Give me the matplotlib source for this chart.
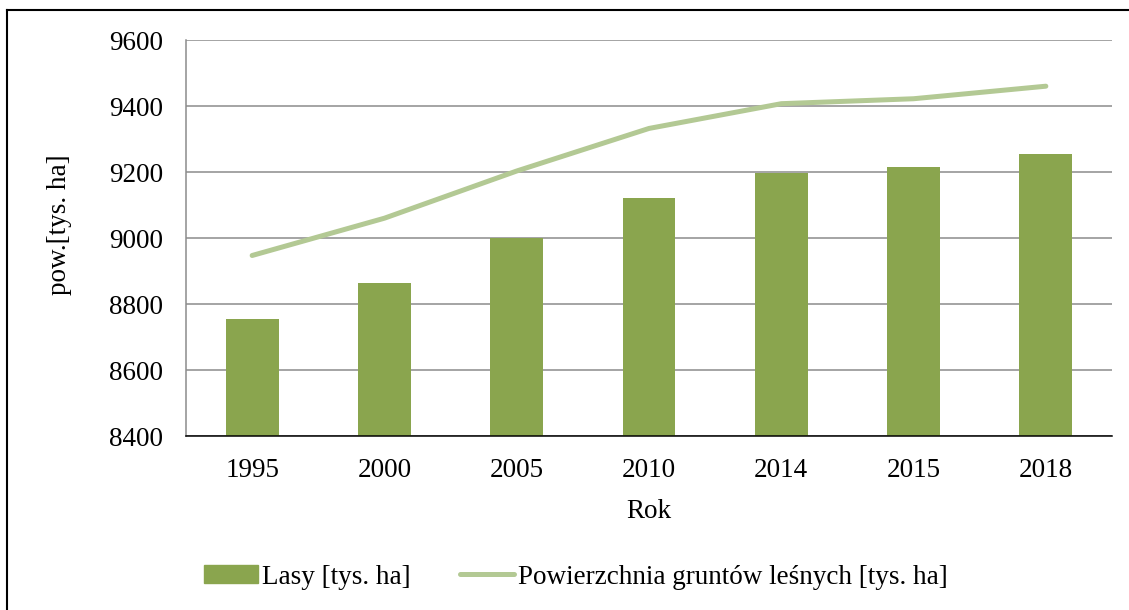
import matplotlib.pyplot as plt
from matplotlib.lines import Line2D

years = ["1995", "2000", "2005", "2010", "2014", "2015", "2018"]
lasy = [8756, 8864, 9000, 9121, 9197, 9214, 9255]
grunty = [8947, 9060, 9203, 9332, 9407, 9422, 9460]

BAR_COLOR = "#8aa54e"
LINE_COLOR = "#b3c994"
GRID_COLOR = "#8c8c8c"

plt.rcParams["font.family"] = ["Liberation Serif", "DejaVu Serif"]
FS = 19.5

W, H = 1129, 610
fig = plt.figure(figsize=(W / 100, H / 100), dpi=100)
ax = fig.add_axes([186 / W, 1 - 436 / H, (1112 - 186) / W, (436 - 40) / H])

x = range(len(years))
ax.bar(x, lasy, width=0.4, color=BAR_COLOR, zorder=2, label="Lasy [tys. ha]")
ax.plot(x, grunty, color=LINE_COLOR, lw=3.6, solid_capstyle="round", zorder=3,
        label="Powierzchnia gruntów leśnych [tys. ha]")

ax.set_xlim(-0.5, len(years) - 0.5)
ax.set_ylim(8400, 9600)
ax.set_yticks(range(8400, 9601, 200))
ax.set_xticks(list(x))
ax.set_xticklabels(years)
ax.yaxis.grid(True, color=GRID_COLOR, lw=1.1, zorder=0)
ax.set_axisbelow(True)
ax.tick_params(axis="both", length=0, labelsize=FS)
ax.tick_params(axis="y", pad=16.5)
ax.tick_params(axis="x", pad=16)

for s in ["top", "right"]:
    ax.spines[s].set_visible(False)
ax.spines["left"].set_color(GRID_COLOR)
ax.spines["left"].set_linewidth(1.1)
ax.spines["bottom"].set_color("black")
ax.spines["bottom"].set_linewidth(1.1)

ax.set_xlabel("Rok", fontsize=FS, labelpad=11)
fig.text(60 / W, 1 - 225 / H, "pow.[tys. ha]", rotation=90, fontsize=FS,
         ha="center", va="center")

handles = [
    plt.Rectangle((0, 0), 1, 1, color=BAR_COLOR),
    Line2D([0], [0], color=LINE_COLOR, lw=3.6, solid_capstyle="round"),
]
fig.legend(handles, ["Lasy [tys. ha]", "Powierzchnia gruntów leśnych [tys. ha]"],
           loc="center", bbox_to_anchor=(576 / W, 1 - 577 / H), ncol=2,
           frameon=False, fontsize=FS, handlelength=2.0, handleheight=0.6,
           handletextpad=0.15, columnspacing=1.8)

# outer frame (top and left edges visible)
fig.add_artist(Line2D([7 / W, 7 / W], [0, 1 - 10 / H], color="black", lw=1.5,
                      transform=fig.transFigure))
fig.add_artist(Line2D([7 / W, 1], [1 - 10 / H, 1 - 10 / H], color="black", lw=1.5,
                      transform=fig.transFigure))

fig.savefig("out.png", dpi=100)
